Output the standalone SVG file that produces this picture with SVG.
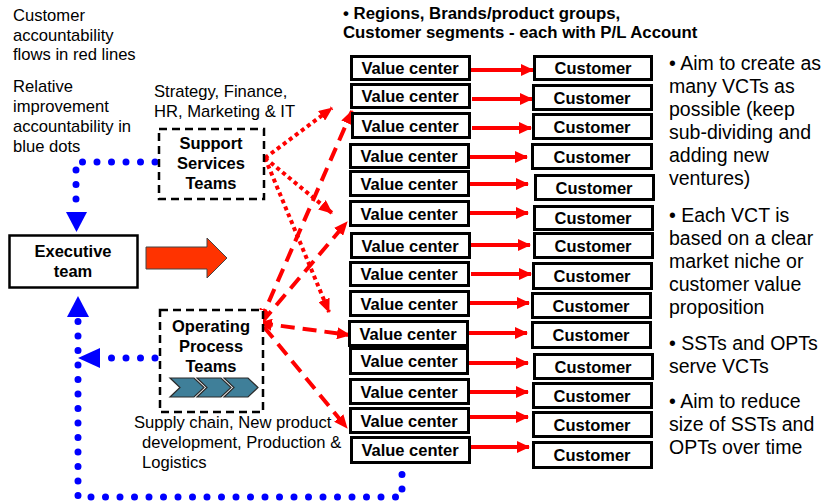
<svg xmlns="http://www.w3.org/2000/svg" width="824" height="504" viewBox="0 0 824 504">
  <style>
    .txt { font-family: "Liberation Sans", Arial, sans-serif; font-size: 16.6px; fill: #000; }
    .side { font-family: "Liberation Sans", Arial, sans-serif; font-size: 19.5px; fill: #000; }
    .bold { font-family: "Liberation Sans", Arial, sans-serif; font-size: 16.8px; font-weight: bold; fill: #000; }
    .lbl { font-family: "Liberation Sans", Arial, sans-serif; font-size: 16.5px; font-weight: bold; fill: #000; text-anchor: middle; }
    .box { fill: #fff; stroke: #000; stroke-width: 3; }
    .team { fill: #fff; stroke: #000; stroke-width: 2.5; stroke-dasharray: 8 5; }
    .flow { stroke: #f00; stroke-width: 4; fill: none; }
    .dotred { stroke: #f00; stroke-width: 4; fill: none; stroke-dasharray: 4 3.5; }
    .dashred { stroke: #f00; stroke-width: 4; fill: none; stroke-dasharray: 14 8; }
    .blue { stroke: #00f; stroke-width: 7; fill: none; stroke-linecap: round; stroke-dasharray: 0 14.5; }
    .bluehead { fill: #00f; }
    .chev { fill: #3f7f99; stroke: #2a2a2a; stroke-width: 1.2; }
  </style>
  <defs>
    <marker id="head" markerUnits="userSpaceOnUse" markerWidth="14" markerHeight="12" refX="13" refY="6" orient="auto-start-reverse">
      <path d="M0,0 L14,6 L0,12 z" fill="#f00"/>
    </marker>
    <marker id="headSmall" markerUnits="userSpaceOnUse" markerWidth="13" markerHeight="12" refX="12" refY="6" orient="auto">
      <path d="M0,0 L13,6 L0,12 z" fill="#f00"/>
    </marker>
  </defs>

  <!-- legend notes -->
  <g id="legend">
    <text class="txt" x="13" y="21">Customer</text>
    <text class="txt" x="13" y="40.5">accountability</text>
    <text class="txt" x="13" y="60">flows in red lines</text>
    <text class="txt" x="13" y="92">Relative</text>
    <text class="txt" x="13" y="112">improvement</text>
    <text class="txt" x="13" y="132">accountability in</text>
    <text class="txt" x="13" y="152">blue dots</text>
  </g>

  <!-- header above the value centers -->
  <g id="header">
    <text class="bold" x="343" y="19">• Regions, Brands/product groups,</text>
    <text class="bold" x="343" y="38">Customer segments - each with P/L Account</text>
  </g>

  <!-- side notes -->
  <g id="notes">
    <text class="side" x="669" y="70">• Aim to create as</text>
    <text class="side" x="669" y="93">many VCTs as</text>
    <text class="side" x="669" y="116">possible (keep</text>
    <text class="side" x="669" y="139">sub-dividing and</text>
    <text class="side" x="669" y="162">adding new</text>
    <text class="side" x="669" y="185">ventures)</text>
    <text class="side" x="669" y="222">• Each VCT is</text>
    <text class="side" x="669" y="245">based on a clear</text>
    <text class="side" x="669" y="268">market niche or</text>
    <text class="side" x="669" y="291">customer value</text>
    <text class="side" x="669" y="314">proposition</text>
    <text class="side" x="669" y="350">• SSTs and OPTs</text>
    <text class="side" x="669" y="373">serve VCTs</text>
    <text class="side" x="669" y="408">• Aim to reduce</text>
    <text class="side" x="669" y="431">size of SSTs and</text>
    <text class="side" x="669" y="454">OPTs over time</text>
  </g>

  <!-- connectors -->
  <g id="connectors">
    <!-- blue improvement-accountability dots -->
    <path class="blue" d="M155,162 H76 V205"/>
    <polygon class="bluehead" points="66,212 87,212 76.5,232"/>
    <path class="blue" d="M155,358 H106"/>
    <polygon class="bluehead" points="100,348 100,368 78,358"/>
    <path class="blue" d="M402,460 V497 H78 V320"/>
    <polygon class="bluehead" points="67,317 89,317 78,296"/>

    <!-- executive team push arrow -->
    <polygon points="146,247 207,247 207,238 227,258 207,278 207,269 146,269" fill="#ff3300" stroke="#444" stroke-width="1"/>

    <!-- support services to value centers (dotted) -->
    <line class="dotred" x1="265" y1="158" x2="332" y2="108" marker-end="url(#head)"/>
    <line class="dotred" x1="265" y1="158" x2="332" y2="213" marker-end="url(#head)"/>
    <line class="dotred" x1="265" y1="158" x2="329" y2="312" marker-end="url(#head)"/>

    <!-- operating process teams to value centers (dashed) -->
    <line class="dashred" x1="260" y1="322" x2="352" y2="111" marker-start="url(#head)" marker-end="url(#head)"/>
    <line class="dashred" x1="262" y1="322" x2="347" y2="222" marker-end="url(#head)"/>
    <line class="dashred" x1="259" y1="323" x2="350" y2="335" marker-start="url(#head)" marker-end="url(#head)"/>
    <line class="dashred" x1="264" y1="327" x2="347" y2="428" marker-end="url(#head)"/>

    <!-- value center to customer -->
    <line class="flow" x1="470" y1="70" x2="533" y2="70" marker-end="url(#headSmall)"/>
    <line class="flow" x1="472" y1="99" x2="532" y2="99" marker-end="url(#headSmall)"/>
    <line class="flow" x1="472" y1="128" x2="531" y2="128" marker-end="url(#headSmall)"/>
    <line class="flow" x1="469" y1="157" x2="527" y2="157" marker-end="url(#headSmall)"/>
    <line class="flow" x1="469" y1="184" x2="528" y2="184" marker-end="url(#headSmall)"/>
    <line class="flow" x1="469" y1="213" x2="528" y2="213" marker-end="url(#headSmall)"/>
    <line class="flow" x1="471" y1="245" x2="530" y2="245" marker-end="url(#headSmall)"/>
    <line class="flow" x1="471" y1="274" x2="531" y2="274" marker-end="url(#headSmall)"/>
    <line class="flow" x1="469" y1="303" x2="529" y2="303" marker-end="url(#headSmall)"/>
    <line class="flow" x1="468" y1="333" x2="527" y2="333" marker-end="url(#headSmall)"/>
    <line class="flow" x1="468" y1="363" x2="528" y2="363" marker-end="url(#headSmall)"/>
    <line class="flow" x1="468" y1="392" x2="528" y2="392" marker-end="url(#headSmall)"/>
    <line class="flow" x1="469" y1="417" x2="528" y2="417" marker-end="url(#headSmall)"/>
    <line class="flow" x1="469" y1="447" x2="529" y2="447" marker-end="url(#headSmall)"/>
  </g>

  <!-- executive team -->
  <g id="executive-team">
    <rect x="9.5" y="235.5" width="128" height="52" fill="#fff" stroke="#000" stroke-width="2.5"/>
    <text class="lbl" x="73" y="257">Executive</text>
    <text class="lbl" x="73" y="277">team</text>
  </g>

  <!-- support services teams -->
  <g id="support-services">
    <text class="txt" x="154" y="97">Strategy, Finance,</text>
    <text class="txt" x="154" y="117">HR, Marketing &amp; IT</text>
    <rect class="team" x="159" y="129" width="105" height="70"/>
    <text class="lbl" x="211" y="149">Support</text>
    <text class="lbl" x="211" y="169">Services</text>
    <text class="lbl" x="211" y="189">Teams</text>
  </g>

  <!-- operating process teams -->
  <g id="operating-process">
    <rect class="team" x="160" y="310" width="103" height="102"/>
    <text class="lbl" x="211" y="332">Operating</text>
    <text class="lbl" x="211" y="352">Process</text>
    <text class="lbl" x="211" y="372">Teams</text>
    <polygon class="chev" points="170,378 194,378 204,387.5 194,397 170,397 180,387.5"/>
    <polygon class="chev" points="197,378 221,378 231,387.5 221,397 197,397 207,387.5"/>
    <polygon class="chev" points="224,378 248,378 258,387.5 248,397 224,397 234,387.5"/>
    <text class="txt" x="134" y="428">Supply chain, New product</text>
    <text class="txt" x="142" y="448">development, Production &amp;</text>
    <text class="txt" x="142" y="468">Logistics</text>
  </g>

  <!-- value centers -->
  <g id="vc1"><rect class="box" x="351.5" y="56.5" width="118" height="23"/><text class="lbl" x="410" y="74">Value center</text></g>
  <g id="vc2"><rect class="box" x="351.5" y="84.5" width="118" height="23"/><text class="lbl" x="410" y="102">Value center</text></g>
  <g id="vc3"><rect class="box" x="352.5" y="113.5" width="117" height="24"/><text class="lbl" x="410" y="131.5">Value center</text></g>
  <g id="vc4"><rect class="box" x="350.5" y="144.5" width="118" height="23"/><text class="lbl" x="409" y="162">Value center</text></g>
  <g id="vc5"><rect class="box" x="350.5" y="171.5" width="118" height="24"/><text class="lbl" x="409" y="189.5">Value center</text></g>
  <g id="vc6"><rect class="box" x="350.5" y="201.5" width="118" height="24"/><text class="lbl" x="409" y="219.5">Value center</text></g>
  <g id="vc7"><rect class="box" x="351.5" y="233.5" width="118" height="24"/><text class="lbl" x="410" y="251.5">Value center</text></g>
  <g id="vc8"><rect class="box" x="350.5" y="262.5" width="118" height="23"/><text class="lbl" x="409" y="280">Value center</text></g>
  <g id="vc9"><rect class="box" x="350.5" y="291.5" width="118" height="24"/><text class="lbl" x="409" y="309.5">Value center</text></g>
  <g id="vc10"><rect class="box" x="349.5" y="321.5" width="118" height="24"/><text class="lbl" x="408" y="339.5">Value center</text></g>
  <g id="vc11"><rect class="box" x="350.5" y="348.5" width="117" height="25"/><text class="lbl" x="409" y="367">Value center</text></g>
  <g id="vc12"><rect class="box" x="350.5" y="379.5" width="118" height="24"/><text class="lbl" x="409" y="397.5">Value center</text></g>
  <g id="vc13"><rect class="box" x="350.5" y="408.5" width="118" height="24"/><text class="lbl" x="409" y="426.5">Value center</text></g>
  <g id="vc14"><rect class="box" x="351.5" y="437.5" width="118" height="25"/><text class="lbl" x="410" y="456">Value center</text></g>

  <!-- customers -->
  <g id="cu1"><rect class="box" x="534.5" y="56.5" width="117" height="23"/><text class="lbl" x="593" y="74">Customer</text></g>
  <g id="cu2"><rect class="box" x="533.5" y="85.5" width="118" height="24"/><text class="lbl" x="592" y="103.5">Customer</text></g>
  <g id="cu3"><rect class="box" x="533.5" y="114.5" width="118" height="24"/><text class="lbl" x="592" y="132.5">Customer</text></g>
  <g id="cu4"><rect class="box" x="532.5" y="144.5" width="119" height="24"/><text class="lbl" x="592" y="162.5">Customer</text></g>
  <g id="cu5"><rect class="box" x="535.5" y="175.5" width="118" height="24"/><text class="lbl" x="594" y="193.5">Customer</text></g>
  <g id="cu6"><rect class="box" x="534.5" y="206.5" width="118" height="23"/><text class="lbl" x="593" y="224">Customer</text></g>
  <g id="cu7"><rect class="box" x="534.5" y="233.5" width="118" height="24"/><text class="lbl" x="593" y="251.5">Customer</text></g>
  <g id="cu8"><rect class="box" x="533.5" y="263.5" width="118" height="25"/><text class="lbl" x="592" y="282">Customer</text></g>
  <g id="cu9"><rect class="box" x="532.5" y="293.5" width="118" height="24"/><text class="lbl" x="591" y="311.5">Customer</text></g>
  <g id="cu10"><rect class="box" x="532.5" y="322.5" width="118" height="25"/><text class="lbl" x="591" y="341">Customer</text></g>
  <g id="cu11"><rect class="box" x="534.5" y="354.5" width="118" height="24"/><text class="lbl" x="593" y="372.5">Customer</text></g>
  <g id="cu12"><rect class="box" x="533.5" y="383.5" width="118" height="24"/><text class="lbl" x="592" y="401.5">Customer</text></g>
  <g id="cu13"><rect class="box" x="533.5" y="412.5" width="118" height="24"/><text class="lbl" x="592" y="430.5">Customer</text></g>
  <g id="cu14"><rect class="box" x="533.5" y="442.5" width="118" height="25"/><text class="lbl" x="592" y="461">Customer</text></g>
</svg>
